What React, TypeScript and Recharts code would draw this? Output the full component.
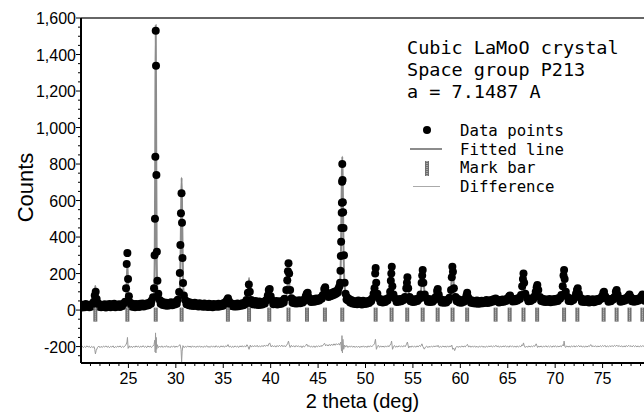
import React from 'react';
import { ComposedChart, XAxis, YAxis, Scatter, Line, ReferenceLine, Label } from 'recharts';

// 2-theta (deg), observed counts
const observed: [number, number][] = [
  [20.0, 30], [20.12, 14], [20.25, 26], [20.38, 16], [20.5, 33], [20.62, 19], [20.75, 28], [20.88, 15], [21.0, 31], [21.12, 20], [21.25, 34],
  [21.35, 45], [21.45, 80], [21.55, 100], [21.65, 60], [21.8, 38],
  [21.9, 18], [22.0, 31], [22.12, 15], [22.25, 27], [22.38, 17], [22.5, 32], [22.62, 14], [22.75, 29], [22.88, 18], [23.0, 33], [23.12, 16], [23.25, 30],
  [23.38, 19], [23.5, 34], [23.62, 15], [23.75, 28], [23.88, 20], [24.0, 32], [24.12, 17], [24.25, 30], [24.38, 22], [24.5, 36],
  [24.65, 45], [24.75, 120], [24.82, 252], [24.89, 312], [24.96, 170], [25.05, 75], [25.2, 40],
  [25.3, 20], [25.4, 34], [25.5, 18], [25.6, 31], [25.7, 16], [25.8, 33], [25.9, 19], [26.0, 30], [26.12, 17], [26.25, 34], [26.38, 21], [26.5, 36],
  [26.62, 20], [26.75, 33], [26.88, 24], [27.0, 38], [27.12, 26], [27.25, 42], [27.38, 34], [27.45, 52], [27.6, 70],
  [27.7, 120], [27.76, 300], [27.8, 500], [27.84, 840], [27.88, 1530], [27.91, 1338], [27.95, 740], [28.0, 320], [28.06, 160], [28.15, 90], [28.3, 55],
  [28.4, 34], [28.5, 47], [28.62, 28], [28.75, 42], [28.88, 25], [29.0, 40], [29.12, 24], [29.25, 37], [29.38, 26], [29.5, 43], [29.62, 27], [29.75, 39],
  [29.88, 30], [30.0, 45], [30.1, 34], [30.2, 56], [30.35, 99],
  [30.42, 203], [30.48, 356], [30.54, 530], [30.6, 640], [30.65, 478], [30.7, 285], [30.76, 148], [30.85, 80], [31.0, 54],
  [31.12, 32], [31.25, 45], [31.38, 27], [31.5, 41], [31.62, 24], [31.75, 37], [31.88, 22], [32.0, 40], [32.12, 23], [32.25, 35], [32.38, 20], [32.5, 38],
  [32.62, 21], [32.75, 33], [32.88, 18], [33.0, 36], [33.12, 19], [33.25, 31], [33.38, 17], [33.5, 35], [33.62, 18], [33.75, 30], [33.88, 16], [34.0, 33],
  [34.12, 19], [34.25, 31], [34.38, 18], [34.5, 35], [34.62, 20], [34.75, 32], [34.88, 22], [35.0, 37], [35.12, 26], [35.25, 44],
  [35.4, 55], [35.5, 65], [35.6, 50], [35.75, 38],
  [35.88, 22], [36.0, 35], [36.12, 19], [36.25, 31], [36.38, 20], [36.5, 36], [36.62, 21], [36.75, 32], [36.88, 24], [37.0, 38], [37.12, 27], [37.25, 40],
  [37.35, 32], [37.45, 55],
  [37.6, 95], [37.7, 140], [37.8, 100], [37.95, 55],
  [38.08, 32], [38.2, 46], [38.3, 30], [38.4, 49], [38.5, 31], [38.6, 44], [38.7, 28], [38.8, 47], [38.9, 29], [39.0, 42], [39.12, 30], [39.25, 46],
  [39.38, 36], [39.5, 52], [39.6, 58], [39.7, 80],
  [39.8, 110], [39.9, 115], [40.0, 75], [40.15, 52],
  [40.28, 32], [40.4, 46], [40.5, 33], [40.6, 49], [40.7, 31], [40.8, 44], [40.9, 33], [41.0, 48], [41.12, 35], [41.25, 50], [41.38, 42], [41.45, 62], [41.65, 110],
  [41.75, 164], [41.82, 213], [41.88, 257], [41.95, 200], [42.05, 110], [42.2, 65],
  [42.3, 40], [42.4, 55], [42.5, 38], [42.6, 52], [42.7, 36], [42.8, 50], [42.9, 38], [43.0, 54], [43.12, 37], [43.25, 51], [43.38, 42], [43.5, 57], [43.62, 52], [43.7, 75],
  [43.8, 90], [43.9, 95], [44.0, 70], [44.15, 58],
  [44.25, 44], [44.4, 58], [44.5, 45], [44.6, 61], [44.7, 47], [44.8, 63], [44.9, 50], [45.0, 60], [45.12, 52], [45.25, 68], [45.38, 62], [45.5, 82],
  [45.65, 115], [45.75, 125], [45.85, 100], [46.0, 82],
  [46.1, 72], [46.2, 88], [46.3, 75], [46.4, 92], [46.5, 80], [46.6, 97], [46.7, 84], [46.8, 102], [46.9, 90], [47.0, 106], [47.08, 96], [47.15, 118], [47.25, 130], [47.32, 150],
  [47.36, 215], [47.4, 296], [47.43, 374], [47.46, 449], [47.49, 533], [47.51, 588], [47.53, 703], [47.55, 800], [47.58, 712], [47.61, 590], [47.64, 536], [47.68, 450], [47.73, 300], [47.8, 150], [47.9, 90],
  [48.0, 58], [48.05, 70], [48.15, 52], [48.25, 62], [48.38, 42], [48.5, 55], [48.62, 36], [48.75, 50], [48.88, 33], [49.0, 47], [49.12, 32], [49.25, 52],
  [49.38, 34], [49.5, 48], [49.62, 30], [49.75, 51], [49.88, 33], [50.0, 46], [50.12, 35], [50.25, 50], [50.38, 39], [50.5, 54], [50.6, 48], [50.7, 64], [50.85, 90],
  [50.95, 120], [51.02, 200], [51.07, 230], [51.13, 150], [51.25, 90], [51.45, 62],
  [51.58, 44], [51.7, 58], [51.82, 42], [51.95, 56], [52.08, 44], [52.2, 60], [52.32, 52], [52.45, 68], [52.6, 100],
  [52.67, 160], [52.72, 200], [52.77, 237], [52.83, 130], [52.95, 85], [53.15, 62],
  [53.28, 44], [53.4, 58], [53.52, 45], [53.65, 60], [53.78, 48], [53.9, 62], [54.02, 55], [54.15, 72], [54.3, 120],
  [54.37, 150], [54.42, 180], [54.5, 120], [54.65, 72],
  [54.75, 48], [54.85, 60], [54.98, 44], [55.1, 57], [55.22, 45], [55.35, 61], [55.48, 50], [55.6, 64], [55.7, 62], [55.8, 85], [55.92, 150],
  [55.98, 190], [56.03, 220], [56.1, 150], [56.25, 85], [56.45, 62],
  [56.58, 46], [56.7, 60], [56.82, 44], [56.95, 57], [57.08, 45], [57.2, 60], [57.3, 56], [57.4, 72],
  [57.55, 105], [57.62, 115], [57.72, 85], [57.9, 60],
  [58.02, 42], [58.15, 55], [58.28, 40], [58.4, 53], [58.52, 42], [58.65, 57], [58.75, 52], [58.85, 68], [59.02, 110],
  [59.1, 180], [59.16, 237], [59.22, 210], [59.32, 120], [59.5, 72],
  [59.62, 48], [59.75, 60], [59.88, 42], [60.0, 55], [60.12, 40], [60.25, 53], [60.38, 46], [60.5, 60], [60.65, 80],
  [60.72, 95], [60.82, 70], [61.0, 56],
  [61.12, 40], [61.25, 52], [61.38, 37], [61.5, 49], [61.62, 36], [61.75, 53], [61.88, 35], [62.0, 48], [62.12, 36], [62.25, 51], [62.38, 37], [62.5, 49],
  [62.62, 40], [62.75, 55], [62.88, 39], [63.0, 51], [63.12, 42], [63.25, 55], [63.38, 46], [63.5, 59], [63.6, 50],
  [63.72, 64], [63.85, 48], [63.95, 56],
  [64.08, 42], [64.2, 55], [64.32, 44], [64.45, 58], [64.58, 45], [64.7, 57], [64.82, 50], [64.95, 63],
  [65.15, 75], [65.25, 80], [65.4, 64],
  [65.52, 47], [65.65, 60], [65.78, 48], [65.9, 62], [66.02, 52], [66.15, 66], [66.28, 60], [66.4, 82], [66.52, 130],
  [66.6, 170], [66.66, 200], [66.73, 150], [66.85, 90], [67.05, 66],
  [67.18, 48], [67.3, 62], [67.42, 50], [67.55, 64], [67.68, 58], [67.8, 74], [67.95, 100],
  [68.05, 125], [68.12, 137], [68.22, 110], [68.4, 72],
  [68.52, 50], [68.65, 62], [68.78, 46], [68.9, 59], [69.02, 44], [69.15, 57], [69.28, 45], [69.4, 60], [69.52, 43], [69.65, 56], [69.78, 46], [69.9, 60],
  [70.02, 47], [70.15, 62], [70.28, 50], [70.4, 66], [70.52, 62], [70.65, 82], [70.8, 130],
  [70.88, 190], [70.94, 219], [71.0, 170], [71.12, 100], [71.3, 72],
  [71.42, 50], [71.55, 63], [71.68, 48], [71.8, 62], [71.92, 55], [72.05, 68], [72.2, 90],
  [72.3, 110], [72.38, 120], [72.5, 90], [72.7, 66],
  [72.82, 46], [72.95, 59], [73.08, 44], [73.2, 56], [73.32, 45], [73.45, 60], [73.58, 42], [73.7, 55], [73.82, 44], [73.95, 59], [74.08, 43], [74.2, 56],
  [74.32, 47], [74.45, 61], [74.58, 50], [74.7, 64], [74.82, 60], [74.95, 76],
  [75.08, 95], [75.15, 100], [75.28, 75], [75.5, 60],
  [75.62, 46], [75.75, 59], [75.88, 48], [76.0, 62], [76.12, 58], [76.25, 72], [76.4, 100],
  [76.48, 110], [76.58, 85], [76.75, 64],
  [76.88, 46], [77.0, 60], [77.12, 48], [77.25, 62], [77.38, 52], [77.5, 66], [77.6, 62], [77.7, 76],
  [77.84, 85], [77.98, 70],
  [78.08, 48], [78.2, 62], [78.32, 46], [78.45, 59], [78.58, 48], [78.7, 62], [78.82, 52], [78.95, 66], [79.1, 76],
  [79.2, 85], [79.35, 70], [79.48, 50], [79.6, 62], [79.72, 48], [79.85, 59], [80.0, 52],
];

// 2-theta (deg), fitted (calculated) counts
const fitted: [number, number][] = [
  [20.0, 22], [21.0, 23], [21.3, 30], [21.4, 50], [21.47, 100], [21.51, 132], [21.55, 100], [21.62, 50], [21.75, 30], [22.0, 24],
  [24.0, 24], [24.6, 30], [24.75, 60], [24.84, 180], [24.89, 250], [24.94, 180], [25.03, 60], [25.2, 33], [25.6, 27],
  [27.0, 30], [27.5, 40], [27.7, 90], [27.78, 300], [27.83, 900], [27.88, 1560], [27.93, 900], [27.98, 300], [28.06, 100], [28.3, 50], [28.7, 35],
  [30.0, 35], [30.3, 55], [30.45, 150], [30.55, 500], [30.61, 725], [30.67, 500], [30.77, 150], [30.9, 60], [31.3, 38],
  [35.2, 30], [35.4, 45], [35.49, 60], [35.58, 45], [35.8, 32],
  [37.4, 35], [37.62, 80], [37.72, 175], [37.82, 80], [38.05, 45],
  [39.6, 42], [39.78, 75], [39.85, 95], [39.93, 75], [40.15, 45],
  [41.5, 48], [41.75, 120], [41.88, 225], [42.0, 120], [42.25, 60],
  [43.6, 50], [43.76, 75], [43.83, 90], [43.9, 75], [44.1, 55],
  [45.4, 62], [45.62, 90], [45.72, 110], [45.82, 90], [46.05, 70],
  [47.0, 75], [47.3, 130], [47.42, 350], [47.5, 700], [47.55, 840], [47.6, 700], [47.68, 350], [47.8, 130], [48.1, 60], [48.6, 48],
  [50.6, 50], [50.9, 90], [51.0, 140], [51.07, 165], [51.14, 140], [51.25, 90], [51.5, 58],
  [52.4, 60], [52.6, 110], [52.7, 160], [52.75, 185], [52.8, 160], [52.9, 110], [53.15, 62],
  [54.1, 65], [54.3, 120], [54.4, 155], [54.5, 120], [54.7, 65],
  [55.7, 62], [55.92, 140], [56.03, 205], [56.14, 140], [56.35, 65],
  [57.35, 60], [57.52, 90], [57.61, 110], [57.7, 90], [57.9, 58],
  [58.9, 62], [59.06, 150], [59.18, 235], [59.3, 150], [59.5, 65],
  [60.5, 55], [60.64, 70], [60.72, 80], [60.8, 70], [61.0, 52],
  [63.5, 52], [63.72, 60], [63.9, 52],
  [65.0, 55], [65.2, 75], [65.4, 58],
  [66.35, 65], [66.55, 130], [66.66, 180], [66.77, 130], [67.0, 65],
  [67.85, 65], [68.0, 105], [68.1, 135], [68.2, 105], [68.4, 65],
  [70.6, 60], [70.82, 120], [70.94, 175], [71.06, 120], [71.3, 62],
  [72.15, 62], [72.26, 95], [72.34, 115], [72.42, 95], [72.6, 60],
  [74.9, 58], [75.03, 80], [75.11, 95], [75.2, 80], [75.4, 58],
  [76.3, 60], [76.4, 85], [76.48, 105], [76.56, 85], [76.7, 60],
  [77.7, 58], [77.78, 72], [77.84, 82], [77.9, 72], [78.0, 58],
  [79.05, 58], [79.14, 72], [79.2, 82], [79.26, 72], [79.4, 58], [80.0, 56],
];

// 2-theta (deg), difference curve (observed - fitted, drawn offset at -200)
const difference: [number, number][] = [
  [20.0, -203], [20.12, -197], [20.25, -206], [20.38, -199], [20.5, -205], [20.62, -196], [20.75, -203], [20.88, -198], [21.0, -207], [21.12, -199], [21.25, -205],
  [21.38, -200], [21.45, -215], [21.52, -240], [21.6, -222], [21.75, -204],
  [21.88, -197], [22.0, -206], [22.12, -199], [22.25, -205], [22.38, -197], [22.5, -203], [22.62, -196], [22.75, -204], [22.88, -198], [23.0, -206],
  [23.12, -199], [23.25, -203], [23.38, -196], [23.5, -207], [23.62, -200], [23.75, -204], [23.88, -197], [24.0, -203], [24.12, -196], [24.25, -205],
  [24.38, -199], [24.5, -204], [24.62, -196], [24.75, -190], [24.85, -175], [24.9, -150], [24.97, -210], [25.1, -196], [25.18, -205], [25.3, -198],
  [25.42, -206], [25.55, -197], [25.68, -204], [25.8, -196], [25.92, -203], [26.05, -197], [26.18, -205], [26.3, -198], [26.42, -203], [26.55, -195],
  [26.68, -204], [26.8, -198], [26.92, -206], [27.05, -196], [27.18, -203], [27.3, -197], [27.42, -205], [27.55, -199], [27.7, -190], [27.78, -165],
  [27.82, -230], [27.86, -125], [27.9, -235], [27.94, -150], [27.98, -215], [28.05, -190], [28.15, -206], [28.28, -197], [28.4, -204], [28.52, -196],
  [28.65, -205], [28.78, -198], [28.9, -203], [29.02, -195], [29.15, -204], [29.28, -199], [29.4, -206], [29.52, -197], [29.65, -203], [29.78, -196],
  [29.9, -205], [30.02, -197], [30.15, -203], [30.28, -196], [30.45, -190], [30.55, -215], [30.61, -285], [30.67, -225], [30.75, -195], [30.88, -206],
  [31.0, -198], [31.12, -204], [31.25, -196], [31.38, -203], [31.5, -197], [31.62, -205], [31.75, -196], [31.88, -203], [32.0, -198], [32.12, -205],
  [32.25, -197], [32.38, -203], [32.5, -196], [32.62, -204], [32.75, -198], [32.88, -205], [33.0, -197], [33.12, -203], [33.25, -195], [33.38, -204],
  [33.5, -199], [33.62, -205], [33.75, -196], [33.88, -203], [34.0, -197], [34.12, -204], [34.25, -195], [34.38, -203], [34.5, -198], [34.62, -205],
  [34.75, -196], [34.88, -202], [35.0, -196], [35.12, -204], [35.25, -196], [35.38, -200], [35.5, -189], [35.62, -203], [35.75, -197], [35.88, -205],
  [36.0, -198], [36.12, -204], [36.25, -196], [36.38, -203], [36.5, -197], [36.62, -205], [36.75, -196], [36.88, -202], [37.0, -195], [37.12, -203],
  [37.25, -196], [37.38, -202], [37.5, -190], [37.6, -198], [37.72, -215], [37.85, -192], [37.95, -203], [38.08, -195], [38.2, -202], [38.32, -194],
  [38.45, -201], [38.58, -193], [38.7, -203], [38.82, -196], [38.95, -202], [39.08, -194], [39.2, -201], [39.32, -192], [39.45, -199], [39.58, -191],
  [39.7, -198], [39.8, -186], [39.9, -180], [40.05, -202], [40.18, -194], [40.3, -202], [40.42, -195], [40.55, -203], [40.68, -194], [40.8, -201],
  [40.92, -193], [41.05, -200], [41.18, -192], [41.3, -201], [41.42, -194], [41.55, -202], [41.68, -192], [41.78, -185], [41.88, -170], [41.96, -190],
  [42.05, -205], [42.18, -193], [42.3, -202], [42.42, -195], [42.55, -203], [42.68, -194], [42.8, -201], [42.92, -195], [43.05, -203], [43.18, -196],
  [43.3, -206], [43.42, -196], [43.55, -202], [43.68, -195], [43.8, -186], [43.92, -200], [44.05, -194], [44.18, -203], [44.3, -197], [44.42, -204],
  [44.55, -196], [44.68, -205], [44.8, -196], [44.92, -202], [45.05, -195], [45.18, -202], [45.3, -194], [45.42, -199], [45.55, -190], [45.68, -182],
  [45.8, -196], [45.92, -189], [46.05, -197], [46.18, -188], [46.3, -196], [46.42, -186], [46.55, -194], [46.68, -185], [46.8, -193], [46.92, -184],
  [47.05, -191], [47.18, -183], [47.28, -192], [47.4, -175], [47.47, -225], [47.52, -140], [47.57, -235], [47.62, -160], [47.7, -215], [47.8, -192],
  [47.9, -203], [48.02, -194], [48.15, -205], [48.28, -197], [48.4, -203], [48.52, -196], [48.65, -204], [48.78, -197], [48.9, -205], [49.02, -198],
  [49.15, -204], [49.28, -197], [49.4, -206], [49.52, -198], [49.65, -203], [49.78, -196], [49.9, -204], [50.02, -197], [50.15, -205], [50.28, -196],
  [50.4, -203], [50.52, -195], [50.65, -202], [50.78, -194], [50.95, -185], [51.05, -160], [51.15, -215], [51.25, -200], [51.35, -193], [51.48, -204],
  [51.6, -196], [51.72, -203], [51.85, -197], [51.98, -204], [52.1, -196], [52.22, -203], [52.35, -195], [52.48, -201], [52.58, -192], [52.68, -185],
  [52.75, -170], [52.85, -215], [52.95, -201], [53.05, -194], [53.18, -204], [53.3, -197], [53.42, -203], [53.55, -195], [53.68, -202], [53.8, -196],
  [53.92, -203], [54.05, -194], [54.18, -201], [54.3, -190], [54.42, -175], [54.55, -208], [54.68, -197], [54.8, -204], [54.92, -196], [55.05, -203],
  [55.18, -197], [55.3, -204], [55.42, -196], [55.55, -202], [55.68, -194], [55.8, -200], [55.95, -185], [56.05, -200], [56.2, -214], [56.32, -203],
  [56.45, -197], [56.58, -206], [56.7, -198], [56.82, -204], [56.95, -197], [57.08, -203], [57.2, -196], [57.32, -202], [57.45, -195], [57.55, -201],
  [57.65, -193], [57.78, -205], [57.9, -198], [58.02, -204], [58.15, -196], [58.28, -203], [58.4, -197], [58.52, -204], [58.65, -196], [58.78, -203],
  [58.9, -197], [59.02, -200], [59.1, -192], [59.2, -215], [59.3, -208], [59.4, -222], [59.52, -206], [59.65, -198], [59.78, -205], [59.9, -197],
  [60.02, -204], [60.15, -196], [60.28, -203], [60.4, -197], [60.52, -202], [60.62, -195], [60.75, -188], [60.88, -203], [61.0, -196], [61.12, -204],
  [61.25, -197], [61.38, -203], [61.5, -196], [61.62, -204], [61.75, -198], [61.88, -205], [62.0, -197], [62.12, -203], [62.25, -196], [62.38, -204],
  [62.5, -198], [62.62, -205], [62.75, -197], [62.88, -203], [63.0, -196], [63.12, -202], [63.25, -195], [63.38, -203], [63.5, -197], [63.62, -201],
  [63.75, -193], [63.88, -202], [64.0, -196], [64.12, -204], [64.25, -197], [64.38, -203], [64.5, -196], [64.62, -202], [64.75, -195], [64.88, -203],
  [65.0, -197], [65.12, -204], [65.25, -195], [65.38, -202], [65.5, -196], [65.62, -203], [65.75, -197], [65.88, -204], [66.0, -196], [66.12, -203],
  [66.25, -197], [66.38, -201], [66.5, -190], [66.58, -195], [66.66, -180], [66.75, -198], [66.85, -205], [66.98, -197], [67.1, -204], [67.22, -196],
  [67.35, -203], [67.48, -197], [67.6, -202], [67.72, -195], [67.85, -199], [68.0, -185], [68.08, -196], [68.15, -205], [68.28, -197], [68.4, -203],
  [68.52, -196], [68.65, -204], [68.78, -197], [68.9, -202], [69.02, -195], [69.15, -203], [69.28, -197], [69.4, -202], [69.52, -196], [69.65, -204],
  [69.78, -196], [69.9, -202], [70.02, -195], [70.15, -203], [70.28, -197], [70.4, -202], [70.52, -196], [70.65, -201], [70.8, -190], [70.88, -196],
  [70.94, -170], [71.02, -198], [71.1, -205], [71.22, -196], [71.35, -203], [71.48, -197], [71.6, -204], [71.72, -196], [71.85, -202], [71.98, -195],
  [72.1, -203], [72.22, -196], [72.35, -200], [72.48, -194], [72.6, -202], [72.72, -195], [72.85, -203], [72.98, -197], [73.1, -204], [73.22, -196],
  [73.35, -203], [73.48, -196], [73.6, -200], [73.75, -189], [73.88, -201], [74.0, -195], [74.12, -202], [74.25, -195], [74.38, -203], [74.5, -196],
  [74.62, -202], [74.75, -195], [74.88, -201], [75.0, -194], [75.12, -200], [75.25, -193], [75.38, -203], [75.5, -196], [75.62, -202], [75.75, -195],
  [75.88, -201], [76.0, -194], [76.12, -201], [76.25, -193], [76.38, -199], [76.5, -192], [76.62, -200], [76.75, -194], [76.88, -202], [77.0, -195],
  [77.12, -203], [77.25, -196], [77.38, -202], [77.5, -194], [77.62, -201], [77.75, -193], [77.88, -200], [78.0, -195], [78.12, -202], [78.25, -194],
  [78.38, -201], [78.5, -195], [78.62, -202], [78.75, -196], [78.88, -203], [79.0, -195], [79.12, -201], [79.25, -194], [79.38, -202], [79.5, -196],
  [79.62, -201], [79.75, -195], [79.88, -202], [80.0, -198],
];

// Bragg reflection positions (2-theta, deg) shown as mark bars
const markPositions: number[] = [
  21.51, 24.89, 27.88, 30.61, 35.49, 37.72, 39.85, 41.88, 43.83, 45.72, 47.55, 51.07, 52.75, 54.4,
  56.03, 57.61, 59.18, 60.72, 63.72, 65.2, 66.66, 68.1, 70.94, 72.34, 75.11, 76.48, 77.84, 79.2,
];
const markLevel = -25;

const xTicks: number[] = [21, 22, 23, 24, 25, 26, 27, 28, 29, 30, 31, 32, 33, 34, 35, 36, 37, 38, 39, 40, 41, 42, 43, 44, 45, 46, 47, 48, 49, 50, 51, 52, 53, 54, 55, 56, 57, 58, 59, 60, 61, 62, 63, 64, 65, 66, 67, 68, 69, 70, 71, 72, 73, 74, 75, 76, 77, 78, 79];
const xLabelTicks: number[] = [25, 30, 35, 40, 45, 50, 55, 60, 65, 70, 75];
const yTicks: number[] = [-250, -200, -150, -100, -50, 0, 50, 100, 150, 200, 250, 300, 350, 400, 450, 500, 550, 600, 650, 700, 750, 800, 850, 900, 950, 1000, 1050, 1100, 1150, 1200, 1250, 1300, 1350, 1400, 1450, 1500, 1550, 1600];
const yLabelTicks: number[] = [-200, 0, 200, 400, 600, 800, 1000, 1200, 1400, 1600];

const obsRows = observed.map(([x, y]) => ({ x, y }));
const fitRows = fitted.map(([x, y]) => ({ x, y }));
const diffRows = difference.map(([x, y]) => ({ x, y }));
const markRows = markPositions.map((x) => ({ x, y: markLevel }));

const TICK_FONT = '"Liberation Sans", Arial, sans-serif';
const MONO = '"DejaVu Sans Mono", "Liberation Mono", monospace';

const XTick = (props: any) => {
  const { x, y, payload } = props;
  const major = xLabelTicks.includes(payload.value);
  return (
    <g>
      <line x1={x} x2={x} y1={y} y2={y + (major ? 5 : 3)} stroke="#000" strokeWidth={1} />
      {major && (
        <text x={x} y={y + 21} textAnchor="middle" fontSize={16} fontFamily={TICK_FONT} fill="#000">
          {payload.value}
        </text>
      )}
    </g>
  );
};

const YTick = (props: any) => {
  const { x, y, payload } = props;
  const major = yLabelTicks.includes(payload.value);
  return (
    <g>
      <line x1={x} x2={x - (major ? 5 : 3)} y1={y} y2={y} stroke="#000" strokeWidth={1} />
      {major && (
        <text x={x - 5} y={y + 6} textAnchor="end" fontSize={16} fontFamily={TICK_FONT} fill="#000">
          {payload.value.toLocaleString('en-US')}
        </text>
      )}
    </g>
  );
};

const DataDot = (props: any) => <circle cx={props.cx} cy={props.cy} r={4} fill="#000" />;

const MarkBar = (props: any) => (
  <g>
    <rect x={props.cx - 2} y={props.cy - 7} width={4} height={14} fill="#6f6f6f" />
    <line x1={props.cx} x2={props.cx} y1={props.cy - 7} y2={props.cy + 7} stroke="#d8d8d8" strokeWidth={1} strokeDasharray="1 1" />
  </g>
);

const XTitle = (props: any) => {
  const vb = props.viewBox;
  return (
    <text x={vb.x + vb.width / 2 - 3} y={408} textAnchor="middle" fontSize={20} fontFamily={TICK_FONT} fill="#000">
      2 theta (deg)
    </text>
  );
};

const YTitle = (props: any) => {
  const vb = props.viewBox;
  const cy = vb.y + vb.height / 2 - 3;
  return (
    <text x={33} y={cy} transform={`rotate(-90, 33, ${cy})`} textAnchor="middle" fontSize={22} fontFamily={TICK_FONT} fill="#000">
      Counts
    </text>
  );
};

export default function App() {
  return (
    <div style={{ position: 'absolute', left: 0, top: 0, width: 644, height: 413, overflow: 'hidden', background: '#fff' }}>
      <ComposedChart width={660} height={413} margin={{ top: 18, right: 10, bottom: 0, left: 0 }}>
        <XAxis
          type="number"
          dataKey="x"
          domain={[20, 80]}
          ticks={xTicks}
          interval={0}
          height={50}
          tickSize={0}
          tickMargin={0}
          tickLine={false}
          tick={<XTick />}
          axisLine={{ stroke: '#000', strokeWidth: 2 }}
          allowDataOverflow
        >
          <Label content={<XTitle />} />
        </XAxis>
        <YAxis
          type="number"
          dataKey="y"
          domain={[-290, 1600]}
          ticks={yTicks}
          interval={0}
          width={81}
          tickSize={0}
          tickMargin={0}
          tickLine={false}
          tick={<YTick />}
          axisLine={{ stroke: '#000', strokeWidth: 2 }}
          allowDataOverflow
        >
          <Label content={<YTitle />} />
        </YAxis>
        <ReferenceLine y={1600} stroke="#333" strokeWidth={1.5} />
        <Scatter data={obsRows} shape={<DataDot />} isAnimationActive={false} />
        <Line data={fitRows} dataKey="y" type="monotone" stroke="#8c8c8c" strokeWidth={2} dot={false} isAnimationActive={false} />
        <Scatter data={markRows} shape={<MarkBar />} isAnimationActive={false} />
        <Line data={diffRows} dataKey="y" type="linear" stroke="#9a9a9a" strokeWidth={1} dot={false} isAnimationActive={false} />
      </ComposedChart>
      <svg width={644} height={413} style={{ position: 'absolute', left: 0, top: 0, pointerEvents: 'none' }}>
        <g fontFamily={MONO} fill="#000">
          <text x={407} y={54} fontSize={18.5}>Cubic LaMoO crystal</text>
          <text x={407} y={76} fontSize={18.5}>Space group P213</text>
          <text x={407} y={97.5} fontSize={18.5}>a = 7.1487 A</text>
          <text x={460} y={135.5} fontSize={15.7}>Data points</text>
          <text x={460} y={154.5} fontSize={15.7}>Fitted line</text>
          <text x={460} y={173} fontSize={15.7}>Mark bar</text>
          <text x={460} y={192} fontSize={15.7}>Difference</text>
        </g>
        <circle cx={427} cy={130} r={4} fill="#000" />
        <line x1={410} x2={442} y1={149} y2={149} stroke="#8c8c8c" strokeWidth={2} />
        <rect x={425} y={161} width={4} height={15} fill="#6f6f6f" />
        <line x1={427} x2={427} y1={161} y2={176} stroke="#d8d8d8" strokeWidth={1} strokeDasharray="1 1" />
        <line x1={413} x2={440} y1={186.5} y2={186.5} stroke="#aaa" strokeWidth={1} />
      </svg>
    </div>
  );
}
